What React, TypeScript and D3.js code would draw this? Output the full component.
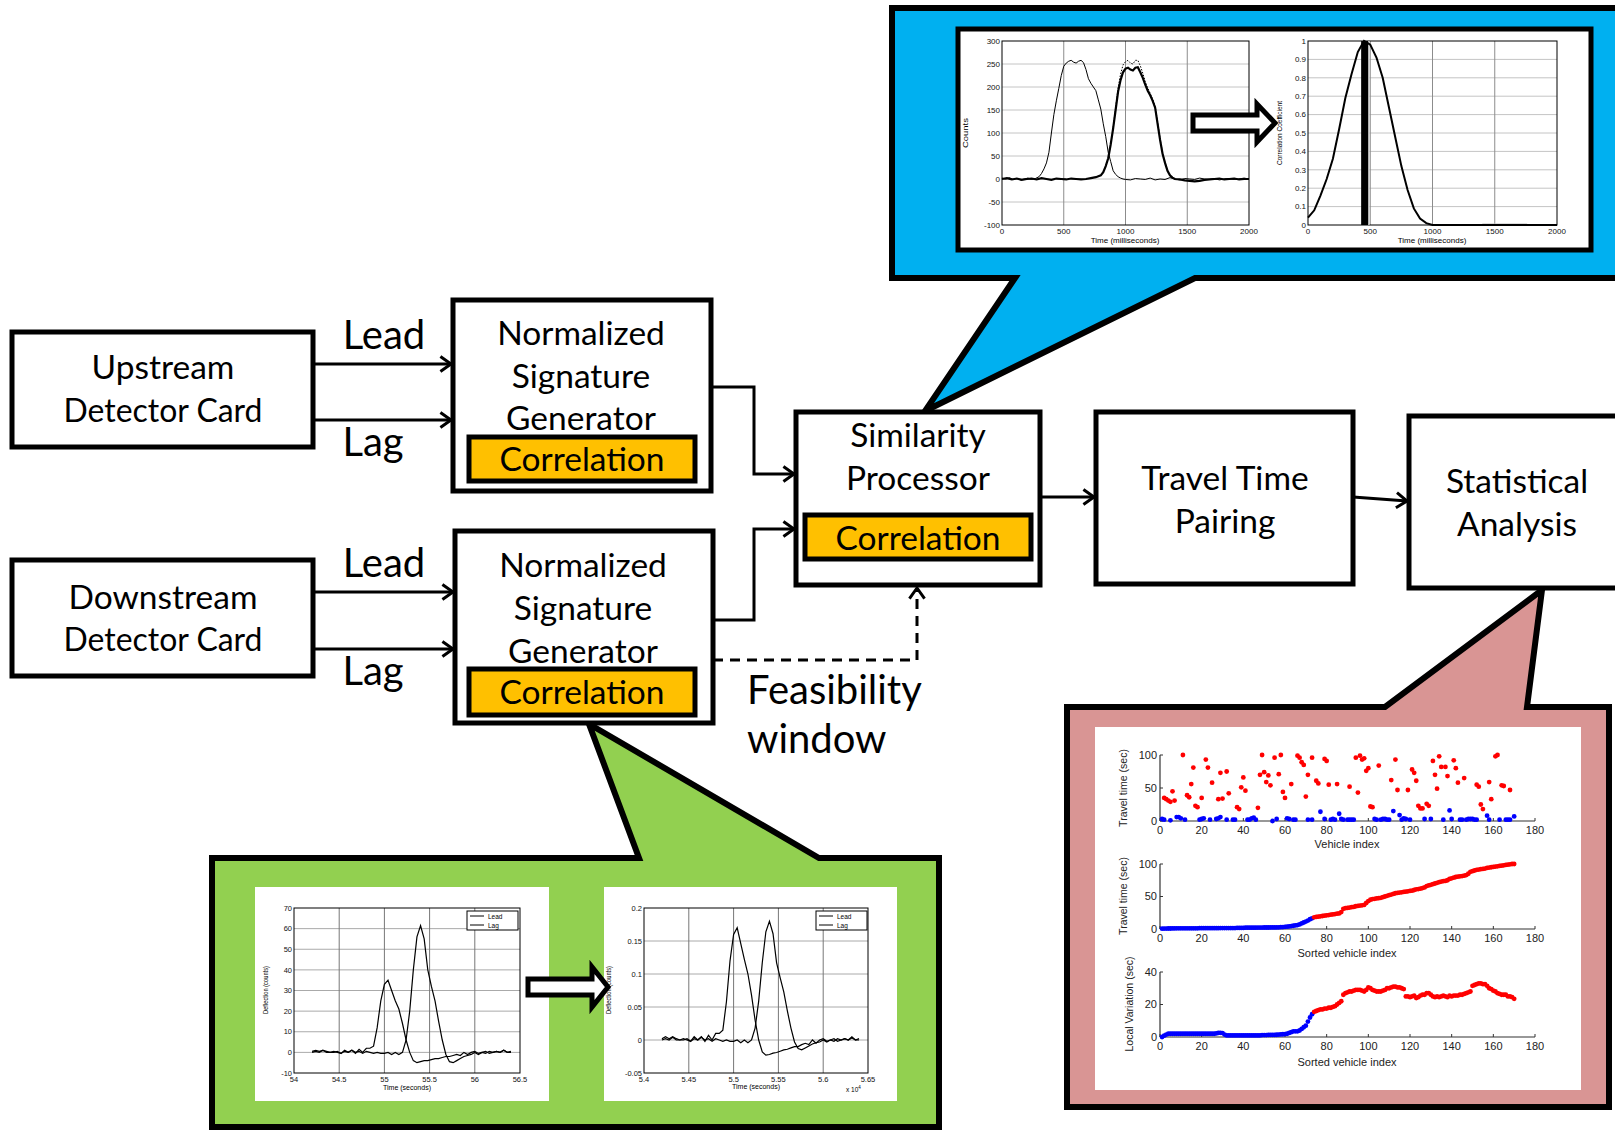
import React from "react";
import * as d3 from "d3";

// ---------------- DATA ----------------
// Blue callout, left chart: raw signatures (time ms, counts)
const leadTimeMs = [0,30,60,90,120,150,180,210,240,270,300,320,340,360,380,400,420,440,460,480,500,520,540,560,580,600,620,640,660,680,700,720,740,760,780,800,820,840,860,880,900,920,940,960,980,1000,1040,1080,1120,1160,1200,1240,1280,1320,1360,1400,1440,1480,1520,1560,1600,1640,1680,1720,1760,1800,1840,1880,1920,1960,2000];
const leadCounts = [2,0,3,-1,1,-2,0,2,-1,1,5,12,22,35,58,100,140,170,197,225,245,252,256,258,254,252,256,258,253,238,218,208,200,192,172,152,120,92,58,38,18,10,5,2,0,-1,-2,1,0,-1,2,-2,0,-1,3,0,-2,1,0,-1,2,0,-1,1,-2,0,1,-1,0,2,0];
const lagTimeMs = [0,40,80,120,160,200,240,280,320,360,400,440,480,520,560,600,640,680,720,760,800,820,840,860,880,900,920,940,960,980,1000,1020,1040,1060,1080,1100,1120,1140,1160,1180,1200,1220,1240,1260,1280,1300,1320,1340,1360,1380,1400,1440,1480,1520,1560,1600,1640,1680,1720,1760,1800,1840,1880,1920,1960,2000];
const lagCounts = [0,2,-1,1,-2,0,1,-1,2,0,-2,1,0,-1,1,0,-1,0,2,4,8,15,28,45,75,110,150,190,215,232,240,242,238,236,242,243,232,220,205,192,182,170,155,120,85,55,35,18,8,3,0,-1,-3,-4,-5,-4,-2,-1,0,1,-1,0,1,-1,0,0];
const rawLagTimeMs = [900,920,940,960,980,1000,1020,1040,1060,1080,1100,1120,1140,1160,1180,1200,1220,1240,1260,1280,1300,1320,1340,1360,1380,1400];
const rawLagCounts = [112,155,198,228,248,255,258,252,250,258,258,246,230,212,198,186,174,158,124,88,57,36,19,9,3,0];

// Blue callout, right chart: correlation coefficient vs shift
const corrTimeMs = [0,50,100,150,200,250,300,350,400,450,500,550,600,650,700,750,800,850,900,950,1000,1100,1200,1300,1400,1500,1600,1700,1800,1900,2000];
const corrCoef = [0.04,0.08,0.16,0.25,0.36,0.52,0.69,0.82,0.94,1.0,0.98,0.91,0.8,0.64,0.48,0.32,0.19,0.09,0.035,0.01,0,0,0,0,0,0,0,0,0,0,0];
const corrPeakMs = 455;

const countTicks = [-100,-50,0,50,100,150,200,250,300];
const msTicks = [0,500,1000,1500,2000];
const coefTicks = [0,0.1,0.2,0.3,0.4,0.5,0.6,0.7,0.8,0.9,1];
const coefTickLabels = ["0","0.1","0.2","0.3","0.4","0.5","0.6","0.7","0.8","0.9","1"];

// Green callout: lead/lag deflection (time s)
const deflTimeS = [54.20,54.24,54.28,54.32,54.36,54.40,54.44,54.48,54.52,54.56,54.60,54.64,54.68,54.72,54.76,54.80,54.84,54.88,54.92,54.96,55.00,55.04,55.08,55.12,55.16,55.20,55.24,55.28,55.32,55.36,55.40,55.44,55.48,55.52,55.56,55.60,55.64,55.68,55.72,55.76,55.80,55.84,55.88,55.92,55.96,56.00,56.04,56.08,56.12,56.16,56.20,56.24,56.28,56.32,56.36,56.40];
const leadDefl = [0.5,1,0.5,1,0.5,0,0,0.5,-0.5,1,0,1,-0.5,1.5,0,2,2,3,12,25,33,35,30,25,21,14,6,0,-4,-5,-4.5,-4,-4,-3.5,-3,-3,-2.5,-2,-2,-1.5,-1,-1.5,0,-1,0,0.5,-0.5,0,0.5,-0.5,0,0.5,0,1,0,0.5];
const lagDefl = [0,0.5,0,1,0,0,0.5,0,-0.5,0.5,0,1,0,0.5,-0.5,0.5,0,-0.5,0,-0.5,-0.5,0,-1,0,-1,0,6,20,40,56,61.5,55,40,32,25,15,6,-1,-4.5,-5,-4,-3,-2,-1.5,-1,0,-1,0,-0.5,0.5,0,0.5,0,1,0,0];
const leadNorm = [0.002,0.005,0.002,0.005,0.002,0,0,0.002,-0.002,0.005,0,0.005,-0.002,0.007,0,0.01,0.01,0.015,0.058,0.12,0.16,0.17,0.146,0.122,0.1,0.068,0.03,0,-0.018,-0.023,-0.022,-0.02,-0.019,-0.017,-0.015,-0.014,-0.012,-0.01,-0.01,-0.007,-0.005,-0.007,0,-0.005,0,0.002,-0.002,0,0.002,-0.002,0,0.002,0,0.005,0,0.002];
const lagNorm = [0,0.002,0,0.004,0,0,0.002,0,-0.002,0.002,0,0.004,0,0.002,-0.002,0.002,0,-0.002,0,-0.002,-0.002,0,-0.004,0,-0.004,0,0.018,0.059,0.117,0.164,0.18,0.161,0.117,0.094,0.073,0.044,0.018,-0.003,-0.013,-0.015,-0.012,-0.009,-0.006,-0.004,-0.003,0,-0.003,0,-0.002,0.002,0,0.002,0,0.003,0,0];
const secTicks = [54,54.5,55,55.5,56,56.5];
const secTickLabels = ["54","54.5","55","55.5","56","56.5"];
const secTicks2 = [54,54.5,55,55.5,56,56.5];
const secTickLabels2 = ["5.4","5.45","5.5","5.55","5.6","5.65"];
const deflTicks = [-10,0,10,20,30,40,50,60,70];
const normTicks = [-0.05,0,0.05,0.1,0.15,0.2];
const normTickLabels = ["-0.05","0","0.05","0.1","0.15","0.2"];

// Pink callout: travel time analysis
const redVehicle = [2,3,4,5,6,7,11,13,14,15,16,17,18,20,22,23,25,28,29,30,32,33,37,38,39,40,41,47,48,49,50,51,52,53,55,57,58,59,60,63,66,67,68,69,70,71,73,75,76,79,80,81,85,91,94,95,96,97,98,99,100,101,102,105,111,113,114,119,121,122,123,124,125,126,128,129,131,132,133,134,135,137,138,141,142,143,146,152,153,154,155,158,159,161,162,164,165,168];
const redTravel = [35,33,31,29,45,31,100,39,36,56,81,23,21,35,93,81,58,33,73,34,75,42,21,18,51,66,46,20,70,100,74,59,69,54,96,71,100,44,35,56,99,96,89,85,37,70,96,61,57,94,91,55,56,52,96,43,99,93,95,76,80,22,21,84,62,93,47,47,78,73,61,23,19,19,26,23,91,70,49,98,82,82,68,92,80,58,65,55,52,25,18,59,33,98,100,54,53,47];
const blueVehicle = [1,2,5,8,9,10,12,19,20,21,24,27,28,29,32,35,36,42,43,44,45,46,54,56,61,62,64,65,71,73,77,79,82,83,84,86,87,88,90,91,92,93,103,104,106,107,108,109,110,112,115,116,117,118,120,127,130,136,139,140,144,145,147,148,149,150,151,152,157,158,163,166,167,168,170];
const blueTravel = [3,2,1,6,6,4,2,2,3,4,2,3,4,6,2,2,2,2,2,4,5,2,0,3,4,3,2,2,2,2,14,3,2,3,2,11,3,2,2,2,2,2,3,2,2,3,3,2,2,15,9,2,4,3,2,3,3,2,16,3,2,2,2,3,3,3,2,2,8,2,2,2,2,2,7];
const sortedTravel = [
  0.5,0.6,0.7,0.8,0.8,0.9,0.9,1,1,1,
  1,1,1,1,1.1,1.1,1.1,1.1,1.2,1.2,
  1.2,1.2,1.2,1.3,1.3,1.3,1.3,1.3,1.4,1.4,
  1.4,1.4,1.5,1.5,1.5,1.5,1.6,1.6,1.6,1.7,
  2,2,2,2.1,2.1,2.1,2.2,2.2,2.2,2.3,
  2.3,2.3,2.4,2.4,2.5,2.5,2.6,2.8,3,3.3,
  3.6,4,4.5,5,5.5,6,7,8.5,10,11.5,
  13,15,16.5,
  18,18.5,19,19.5,20,20.5,21,
  21.5,22,22.5,23,23.5,24,26,31,32,32.5,
  33,33.5,34,35,35.5,36,36.5,37,40,43,
  45,46,46.5,47,47.5,48,49,50,51,52,
  53,54,55,55.5,56,56.5,57,57.5,58,58.5,
  59,60,61,61.5,62,63,64,66,67,68,
  69,70,71,72,73,73.5,74,75,77,78,
  79,80,80.5,81,81.5,82,83,85,88,89,
  90,91,91.5,92,92.5,93,94,94.5,95,95.5,
  96,96.5,97,97.5,98,98.5,99,99.5,100,100];
const localVariation = [
  0,0.8,1.5,2,2,2,2,2,2,2,
  2,2,2,2,2,2,2,2,2,2,
  2,2,2,2,2,2,2.2,2.5,2.6,2.4,
  1.5,1,1,1,1,1,1,1,1,1,
  1,1,1,1,1,1,1,1,1.2,1.2,
  1.2,1.3,1.3,1.3,1.3,1.4,1.5,1.6,1.7,1.8,
  2,2.5,3,3.5,3.5,3.5,4,5,6,7,
  9.5,12,14,
  15.5,16,16.5,17,17,17.5,17.5,
  18,18,18.5,19,20,21,22,26,27,27.5,
  28,28,28.5,29,29,29,28.5,28,29,30.5,
  30,29,28.5,28,28,28,28.5,29,30,30,
  30.5,31,31,30.5,30.5,30,29.5,25,25,24.5,
  25,25.5,24,24.5,25.5,26,26,27,27,26,
  25,24.5,25,24.5,25,25.5,25,24.5,25.5,25,
  25.5,25.5,25.5,26,26,26.5,27,27.5,28,31.5,
  32,32.5,33,33,32.5,32.5,31.5,30,29.5,28.5,
  28,27,26.5,26,26,26,25,25,24.5,23.5];
const matchedCount = 73; // sorted vehicles 1..73 are blue
const vehTicks = [0,20,40,60,80,100,120,140,160,180];
const travelTicks = [0,50,100];
const varTicks = [0,20,40];

// ---------------- STYLES ----------------
const W = 1615, H = 1131;
const BLUE_BG = "#00B0F0";
const GREEN_BG = "#92D050";
const PINK_BG = "#D99594";
const YELLOW = "#FFC000";
const BOX_FONT = "Lato, 'Open Sans', sans-serif";
const CHART_FONT = "'Liberation Sans', Arial, sans-serif";

type Scale = d3.ScaleLinear<number, number>;

function BoxAxes(p: {
  x: Scale; y: Scale; xTicks: number[]; xLabels: string[]; yTicks: number[]; yLabels: string[];
  vGrid: number[]; hGrid: number[]; fs: number; vColor?: string; hColor?: string;
}) {
  const [xa, xb] = p.x.range();
  const [ya, yb] = p.y.range();
  return (
    <g fontFamily={CHART_FONT}>
      {p.hGrid.map((t, i) => (
        <line key={"h" + i} x1={xa} x2={xb} y1={p.y(t)} y2={p.y(t)} stroke={p.hColor || "#c4c4c4"} strokeWidth={1} />
      ))}
      {p.vGrid.map((t, i) => (
        <line key={"v" + i} x1={p.x(t)} x2={p.x(t)} y1={ya} y2={yb} stroke={p.vColor || "#8c8c8c"} strokeWidth={1} />
      ))}
      <rect x={xa} y={yb} width={xb - xa} height={ya - yb} fill="none" stroke="#000" strokeWidth={1} />
      {p.xTicks.map((t, i) => (
        <text key={"xt" + i} x={p.x(t)} y={ya + p.fs + 1} fontSize={p.fs} textAnchor="middle" fill="#111">{p.xLabels[i]}</text>
      ))}
      {p.yTicks.map((t, i) => (
        <text key={"yt" + i} x={xa - 2} y={p.y(t) + p.fs * 0.35} fontSize={p.fs} textAnchor="end" fill="#111">{p.yLabels[i]}</text>
      ))}
    </g>
  );
}

function OpenAxes(p: { x: Scale; y: Scale; xTicks: number[]; yTicks: number[]; fs: number }) {
  const [xa, xb] = p.x.range();
  const [ya, yb] = p.y.range();
  return (
    <g fontFamily={CHART_FONT} fill="#222">
      <line x1={xa} x2={xb} y1={ya} y2={ya} stroke="#333" strokeWidth={1.2} />
      <line x1={xa} x2={xa} y1={ya} y2={yb} stroke="#333" strokeWidth={1.2} />
      {p.xTicks.map((t, i) => (
        <g key={"x" + i}>
          <line x1={p.x(t)} x2={p.x(t)} y1={ya} y2={ya - 3} stroke="#333" strokeWidth={1} />
          <text x={p.x(t)} y={ya + 13} fontSize={p.fs} textAnchor="middle">{String(t)}</text>
        </g>
      ))}
      {p.yTicks.map((t, i) => (
        <g key={"y" + i}>
          <line x1={xa} x2={xa + 3} y1={p.y(t)} y2={p.y(t)} stroke="#333" strokeWidth={1} />
          <text x={xa - 3} y={p.y(t) + p.fs * 0.36} fontSize={p.fs} textAnchor="end">{String(t)}</text>
        </g>
      ))}
    </g>
  );
}

function pathOf(xs: number[], ys: number[], x: Scale, y: Scale) {
  const gen = d3.line<number>().x((_, i) => x(xs[i])).y((v) => y(v));
  return gen(ys) || "";
}

function Box(p: { x: number; y: number; w: number; h: number; fill?: string; sw?: number }) {
  return <rect x={p.x} y={p.y} width={p.w} height={p.h} fill={p.fill || "#fff"} stroke="#000" strokeWidth={p.sw || 5} />;
}

function Label(p: { x: number; y: number; size: number; children: React.ReactNode; anchor?: string; len?: number }) {
  return (
    <text x={p.x} y={p.y} dy="0.36em" fontSize={p.size} textAnchor={(p.anchor as any) || "middle"} fontFamily={BOX_FONT} fill="#000"
      textLength={p.len} lengthAdjust={p.len ? "spacingAndGlyphs" : undefined}>
      {p.children}
    </text>
  );
}

function Arrow(p: { pts: [number, number][]; dashed?: boolean }) {
  const pts = p.pts;
  const n = pts.length;
  const [tx, ty] = pts[n - 1];
  const [px, py] = pts[n - 2];
  const ang = Math.atan2(ty - py, tx - px);
  const L = 13, A = 0.62;
  const h1 = [tx - L * Math.cos(ang - A), ty - L * Math.sin(ang - A)];
  const h2 = [tx - L * Math.cos(ang + A), ty - L * Math.sin(ang + A)];
  return (
    <g fill="none" stroke="#000" strokeWidth={3}>
      <polyline points={pts.map((q) => q.join(",")).join(" ")} strokeDasharray={p.dashed ? "10 7" : undefined} />
      <polyline points={`${h1[0]},${h1[1]} ${tx},${ty} ${h2[0]},${h2[1]}`} />
    </g>
  );
}

function BlockArrow(p: { x0: number; x1: number; xh: number; cy: number; sh: number; hh: number }) {
  const d = `M${p.x0},${p.cy - p.sh / 2} H${p.xh} V${p.cy - p.hh / 2} L${p.x1},${p.cy} L${p.xh},${p.cy + p.hh / 2} V${p.cy + p.sh / 2} H${p.x0} Z`;
  return <path d={d} fill="#fff" stroke="#000" strokeWidth={5} strokeLinejoin="miter" />;
}

export default function App() {
  // Blue callout scales
  const bx1 = d3.scaleLinear().domain([0, 2000]).range([1002, 1249]);
  const by1 = d3.scaleLinear().domain([-100, 300]).range([225, 41]);
  const bx2 = d3.scaleLinear().domain([0, 2000]).range([1308, 1557]);
  const by2 = d3.scaleLinear().domain([0, 1]).range([225, 41]);
  // Green callout scales
  const gx1 = d3.scaleLinear().domain([54, 56.5]).range([294, 520]);
  const gy1 = d3.scaleLinear().domain([-10, 70]).range([1073, 908]);
  const gx2 = d3.scaleLinear().domain([54, 56.5]).range([644, 868]);
  const gy2 = d3.scaleLinear().domain([-0.05, 0.2]).range([1073, 908]);
  // Pink callout scales
  const px = d3.scaleLinear().domain([0, 180]).range([1160, 1535]);
  const py1 = d3.scaleLinear().domain([0, 100]).range([821, 755]);
  const py2 = d3.scaleLinear().domain([0, 100]).range([929, 864]);
  const py3 = d3.scaleLinear().domain([0, 40]).range([1037, 972]);

  const boxFs = 33.5;
  const bigFs = 40;

  return (
    <svg width={W} height={H} style={{ position: "absolute", left: 0, top: 0, background: "#fff" }}>
      <rect x={0} y={0} width={W} height={H} fill="#fff" />

      {/* ---------- Callouts ---------- */}
      <path d="M892,8 H1630 V278 H1195 L925,411 L1015,278 H892 Z" fill={BLUE_BG} stroke="#000" strokeWidth={6} strokeLinejoin="miter" />
      <path d="M212,858 H639 L589,724 L819,858 H939 V1127 H212 Z" fill={GREEN_BG} stroke="#000" strokeWidth={6} strokeLinejoin="miter" />
      <path d="M1067,707 H1385 L1542,590 L1527,707 H1609 V1107 H1067 Z" fill={PINK_BG} stroke="#000" strokeWidth={6} strokeLinejoin="miter" />

      {/* Blue callout content */}
      <rect x={958} y={29} width={633} height={221} fill="#fff" stroke="#000" strokeWidth={5} />
      <BoxAxes x={bx1} y={by1} xTicks={msTicks} xLabels={msTicks.map(String)} yTicks={countTicks} yLabels={countTicks.map(String)}
        vGrid={[500, 1000, 1500]} hGrid={[-50, 0, 50, 100, 150, 200, 250]} fs={8} />
      <path d={pathOf(leadTimeMs, leadCounts, bx1, by1)} fill="none" stroke="#000" strokeWidth={1} />
      <path d={pathOf(rawLagTimeMs, rawLagCounts, bx1, by1)} fill="none" stroke="#000" strokeWidth={1} strokeDasharray="1.5 1.5" />
      <path d={pathOf(lagTimeMs, lagCounts, bx1, by1)} fill="none" stroke="#000" strokeWidth={2.2} />
      <text transform={`translate(968,${(41 + 225) / 2}) rotate(-90)`} textAnchor="middle" fontSize={8} fontFamily={CHART_FONT} textLength={30} lengthAdjust="spacingAndGlyphs">Counts</text>
      <text x={1125} y={243} textAnchor="middle" fontSize={8} fontFamily={CHART_FONT}>Time (milliseconds)</text>

      <BoxAxes x={bx2} y={by2} xTicks={msTicks} xLabels={msTicks.map(String)} yTicks={coefTicks} yLabels={coefTickLabels}
        vGrid={[500, 1000, 1500]} hGrid={coefTicks.slice(1, 10)} fs={8} />
      <rect x={bx2(corrPeakMs)} y={41} width={bx2(495) - bx2(corrPeakMs)} height={184} fill="#cfcfcf" />
      <line x1={bx2(1400)} x2={bx2(1760)} y1={by2(0.004)} y2={by2(0.004)} stroke="#bbb" strokeWidth={1.5} />
      <path d={pathOf(corrTimeMs, corrCoef, bx2, by2)} fill="none" stroke="#000" strokeWidth={2} />
      <line x1={bx2(corrPeakMs)} x2={bx2(corrPeakMs)} y1={by2(0)} y2={by2(1)} stroke="#000" strokeWidth={7} />
      <text transform={`translate(1282,${(41 + 225) / 2}) rotate(-90)`} textAnchor="middle" fontSize={8} fontFamily={CHART_FONT} textLength={64} lengthAdjust="spacingAndGlyphs">Correlation Coefficient</text>
      <text x={1432} y={243} textAnchor="middle" fontSize={8} fontFamily={CHART_FONT}>Time (milliseconds)</text>
      <BlockArrow x0={1193} x1={1275} xh={1257} cy={123} sh={16} hh={38} />

      {/* Green callout content */}
      <rect x={255} y={887} width={294} height={214} fill="#fff" />
      <rect x={604} y={887} width={293} height={214} fill="#fff" />
      <BoxAxes x={gx1} y={gy1} xTicks={secTicks} xLabels={secTickLabels} yTicks={deflTicks} yLabels={deflTicks.map(String)}
        vGrid={[54.5, 55, 55.5, 56]} hGrid={[0, 10, 20, 30, 40, 50, 60]} fs={7.5} vColor="#777" hColor="#aaa" />
      <path d={pathOf(deflTimeS, leadDefl, gx1, gy1)} fill="none" stroke="#000" strokeWidth={1.2} />
      <path d={pathOf(deflTimeS, lagDefl, gx1, gy1)} fill="none" stroke="#000" strokeWidth={1.2} />
      <g fontFamily={CHART_FONT} fontSize={6.5}>
        <rect x={467} y={911} width={51} height={19} fill="#fff" stroke="#000" strokeWidth={1} />
        <line x1={470} x2={484} y1={916} y2={916} stroke="#000" strokeWidth={1} />
        <line x1={470} x2={484} y1={925} y2={925} stroke="#000" strokeWidth={1} />
        <text x={488} y={918.5}>Lead</text>
        <text x={488} y={927.5}>Lag</text>
      </g>
      <text transform={`translate(268,990) rotate(-90)`} textAnchor="middle" fontSize={7} fontFamily={CHART_FONT} textLength={48} lengthAdjust="spacingAndGlyphs">Deflection (counts)</text>
      <text x={407} y={1090} textAnchor="middle" fontSize={7} fontFamily={CHART_FONT}>Time (seconds)</text>

      <BoxAxes x={gx2} y={gy2} xTicks={secTicks2} xLabels={secTickLabels2} yTicks={normTicks} yLabels={normTickLabels}
        vGrid={[54.5, 55, 55.5, 56]} hGrid={[0, 0.05, 0.1, 0.15]} fs={7.5} vColor="#777" hColor="#aaa" />
      <path d={pathOf(deflTimeS, leadNorm, gx2, gy2)} fill="none" stroke="#000" strokeWidth={1.2} />
      <path d={pathOf(deflTimeS, lagNorm, gx2, gy2)} fill="none" stroke="#000" strokeWidth={1.2} />
      <g fontFamily={CHART_FONT} fontSize={6.5}>
        <rect x={816} y={911} width={51} height={19} fill="#fff" stroke="#000" strokeWidth={1} />
        <line x1={819} x2={833} y1={916} y2={916} stroke="#000" strokeWidth={1} />
        <line x1={819} x2={833} y1={925} y2={925} stroke="#000" strokeWidth={1} />
        <text x={837} y={918.5}>Lead</text>
        <text x={837} y={927.5}>Lag</text>
      </g>
      <text transform={`translate(611,990) rotate(-90)`} textAnchor="middle" fontSize={7} fontFamily={CHART_FONT} textLength={48} lengthAdjust="spacingAndGlyphs">Deflection (counts)</text>
      <text x={756} y={1089} textAnchor="middle" fontSize={7} fontFamily={CHART_FONT}>Time (seconds)</text>
      <text x={846} y={1092} fontSize={6.5} fontFamily={CHART_FONT}>x 10<tspan dy={-3} fontSize={4.5}>4</tspan></text>
      <BlockArrow x0={528} x1={608} xh={592} cy={987} sh={16} hh={40} />

      {/* Pink callout content */}
      <rect x={1095} y={727} width={486} height={363} fill="#fff" />
      <OpenAxes x={px} y={py1} xTicks={vehTicks} yTicks={travelTicks} fs={11} />
      {redVehicle.map((v, i) => (
        <circle key={"r" + i} cx={px(v)} cy={py1(redTravel[i])} r={2.4} fill="#ff0000" />
      ))}
      {blueVehicle.map((v, i) => (
        <circle key={"b" + i} cx={px(v)} cy={py1(blueTravel[i])} r={2.4} fill="#0000ff" />
      ))}
      <text x={1347} y={848} textAnchor="middle" fontSize={11} fontFamily={CHART_FONT} fill="#222">Vehicle index</text>
      <text transform={`translate(1127,788) rotate(-90)`} textAnchor="middle" fontSize={10.5} fontFamily={CHART_FONT} fill="#222">Travel time (sec)</text>

      <OpenAxes x={px} y={py2} xTicks={vehTicks} yTicks={travelTicks} fs={11} />
      {sortedTravel.map((v, i) => (
        <circle key={"s" + i} cx={px(i + 1)} cy={py2(v)} r={2.4} fill={i < matchedCount ? "#0000ff" : "#ff0000"} />
      ))}
      <text x={1347} y={957} textAnchor="middle" fontSize={11} fontFamily={CHART_FONT} fill="#222">Sorted vehicle index</text>
      <text transform={`translate(1127,896) rotate(-90)`} textAnchor="middle" fontSize={10.5} fontFamily={CHART_FONT} fill="#222">Travel time (sec)</text>

      <OpenAxes x={px} y={py3} xTicks={vehTicks} yTicks={varTicks} fs={11} />
      {localVariation.map((v, i) => (
        <circle key={"l" + i} cx={px(i + 1)} cy={py3(v)} r={2.4} fill={i < matchedCount ? "#0000ff" : "#ff0000"} />
      ))}
      <text x={1347} y={1066} textAnchor="middle" fontSize={11} fontFamily={CHART_FONT} fill="#222">Sorted vehicle index</text>
      <text transform={`translate(1133,1004) rotate(-90)`} textAnchor="middle" fontSize={10.5} fontFamily={CHART_FONT} fill="#222">Local Variation (sec)</text>

      {/* ---------- Connectors ---------- */}
      <Arrow pts={[[313, 364], [451, 364]]} />
      <Arrow pts={[[313, 420], [451, 420]]} />
      <Arrow pts={[[313, 592], [453, 592]]} />
      <Arrow pts={[[313, 649], [453, 649]]} />
      <Arrow pts={[[711, 387], [754, 387], [754, 474], [794, 474]]} />
      <Arrow pts={[[713, 620], [754, 620], [754, 529], [794, 529]]} />
      <Arrow pts={[[713, 660], [917, 660], [917, 588]]} dashed />
      <Arrow pts={[[1040, 497], [1094, 497]]} />
      <Arrow pts={[[1353, 497], [1407, 501]]} />

      {/* ---------- Boxes ---------- */}
      <Box x={12} y={332} w={301} h={115} />
      <Box x={12} y={560} w={301} h={116} />
      <Box x={453} y={300} w={258} h={191} />
      <Box x={469} y={437} w={226} h={44} fill={YELLOW} />
      <Box x={455} y={531} w={258} h={192} />
      <Box x={469} y={669} w={226} h={46} fill={YELLOW} />
      <Box x={796} y={412} w={244} h={173} />
      <Box x={805} y={515} w={226} h={44} fill={YELLOW} />
      <Box x={1096} y={412} w={257} h={172} />
      <Box x={1409} y={416} w={230} h={172} />

      {/* ---------- Text ---------- */}
      <Label x={163} y={367} size={boxFs}>Upstream</Label>
      <Label x={163} y={410} size={boxFs} len={199}>Detector Card</Label>
      <Label x={163} y={597} size={boxFs}>Downstream</Label>
      <Label x={163} y={639} size={boxFs} len={199}>Detector Card</Label>

      <Label x={384} y={335} size={bigFs}>Lead</Label>
      <Label x={373} y={442} size={bigFs}>Lag</Label>
      <Label x={384} y={563} size={bigFs}>Lead</Label>
      <Label x={373} y={671} size={bigFs}>Lag</Label>

      <Label x={581} y={333} size={boxFs}>Normalized</Label>
      <Label x={581} y={376} size={boxFs}>Signature</Label>
      <Label x={581} y={418} size={boxFs}>Generator</Label>
      <Label x={582} y={459} size={boxFs}>Correlation</Label>
      <Label x={583} y={565} size={boxFs}>Normalized</Label>
      <Label x={583} y={608} size={boxFs}>Signature</Label>
      <Label x={583} y={651} size={boxFs}>Generator</Label>
      <Label x={582} y={692} size={boxFs}>Correlation</Label>

      <Label x={918} y={435} size={boxFs}>Similarity</Label>
      <Label x={918} y={478} size={boxFs}>Processor</Label>
      <Label x={918} y={538} size={boxFs}>Correlation</Label>

      <Label x={1225} y={478} size={boxFs}>Travel Time</Label>
      <Label x={1225} y={521} size={boxFs}>Pairing</Label>

      <Label x={1517} y={481} size={boxFs}>Statistical</Label>
      <Label x={1517} y={524} size={boxFs}>Analysis</Label>

      <Label x={747} y={690} size={bigFs} anchor="start">Feasibility</Label>
      <Label x={747} y={739} size={bigFs} anchor="start">window</Label>
    </svg>
  );
}
